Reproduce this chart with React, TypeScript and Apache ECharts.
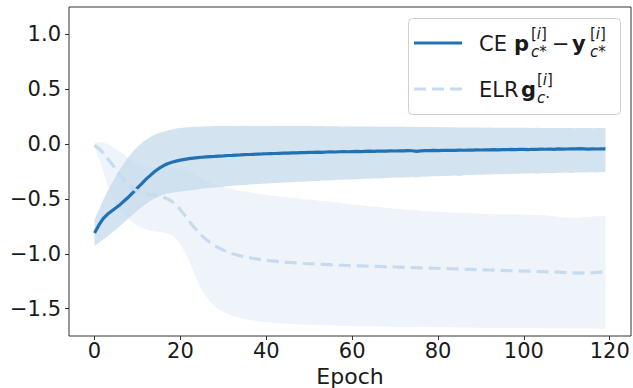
import React, { useEffect, useRef } from "react";
import * as echarts from "echarts";

const EPOCHS: number[] = Array.from({ length: 120 }, (_, i) => i);

const CE_MEAN = [
  -0.81, -0.74, -0.68, -0.64, -0.61, -0.58, -0.55, -0.515, -0.48, -0.44,
  -0.4, -0.36, -0.32, -0.285, -0.25, -0.222, -0.198, -0.18, -0.165, -0.155,
  -0.146, -0.139, -0.133, -0.128, -0.124, -0.12, -0.117, -0.114, -0.112, -0.109,
  -0.107, -0.104, -0.103, -0.1, -0.099, -0.096, -0.095, -0.093, -0.091, -0.09,
  -0.088, -0.087, -0.086, -0.084, -0.083, -0.082, -0.08, -0.081, -0.078, -0.077,
  -0.076, -0.075, -0.074, -0.075, -0.072, -0.071, -0.072, -0.07, -0.069, -0.07,
  -0.068, -0.067, -0.068, -0.066, -0.065, -0.066, -0.064, -0.063, -0.065, -0.062,
  -0.063, -0.061, -0.062, -0.06, -0.061, -0.066, -0.062, -0.059, -0.06, -0.058,
  -0.059, -0.057, -0.058, -0.056, -0.057, -0.055, -0.056, -0.054, -0.055, -0.053,
  -0.054, -0.052, -0.053, -0.051, -0.052, -0.05, -0.051, -0.049, -0.051, -0.048,
  -0.049, -0.05, -0.047, -0.048, -0.046, -0.047, -0.045, -0.048, -0.044, -0.046,
  -0.045, -0.043, -0.044, -0.042, -0.043, -0.046, -0.044, -0.045, -0.043, -0.044,
];

const CE_UPPER = [
  -0.69, -0.6, -0.51, -0.43, -0.36, -0.29, -0.225, -0.165, -0.11, -0.065,
  -0.025, 0.01, 0.04, 0.065, 0.085, 0.1, 0.113, 0.124, 0.133, 0.141,
  0.147, 0.151, 0.154, 0.157, 0.159, 0.161, 0.162, 0.163, 0.164, 0.165,
  0.165, 0.166, 0.166, 0.167, 0.166, 0.167, 0.167, 0.166, 0.167, 0.166,
  0.167, 0.166, 0.165, 0.166, 0.165, 0.166, 0.165, 0.164, 0.165, 0.164,
  0.165, 0.164, 0.163, 0.164, 0.163, 0.162, 0.163, 0.162, 0.161, 0.162,
  0.161, 0.16, 0.161, 0.16, 0.159, 0.16, 0.159, 0.158, 0.159, 0.158,
  0.157, 0.158, 0.157, 0.156, 0.157, 0.156, 0.155, 0.156, 0.155, 0.154,
  0.155, 0.154, 0.153, 0.154, 0.153, 0.152, 0.153, 0.152, 0.151, 0.152,
  0.151, 0.15, 0.151, 0.15, 0.149, 0.15, 0.149, 0.148, 0.149, 0.148,
  0.149, 0.148, 0.147, 0.148, 0.147, 0.146, 0.147, 0.146, 0.147, 0.146,
  0.147, 0.146, 0.145, 0.146, 0.147, 0.146, 0.145, 0.146, 0.147, 0.146,
];

const CE_LOWER = [
  -0.93, -0.9, -0.87, -0.84, -0.81, -0.78, -0.745, -0.71, -0.675, -0.64,
  -0.605, -0.575, -0.545, -0.52, -0.497, -0.478, -0.463, -0.452, -0.444, -0.438,
  -0.433, -0.428, -0.423, -0.418, -0.413, -0.408, -0.403, -0.399, -0.395, -0.391,
  -0.388, -0.385, -0.381, -0.378, -0.375, -0.372, -0.369, -0.367, -0.364, -0.362,
  -0.359, -0.357, -0.355, -0.352, -0.351, -0.348, -0.347, -0.344, -0.343, -0.341,
  -0.339, -0.337, -0.336, -0.333, -0.332, -0.329, -0.328, -0.326, -0.325, -0.323,
  -0.322, -0.32, -0.319, -0.317, -0.316, -0.314, -0.313, -0.311, -0.31, -0.308,
  -0.307, -0.305, -0.304, -0.302, -0.301, -0.304, -0.298, -0.297, -0.295, -0.294,
  -0.293, -0.291, -0.29, -0.288, -0.287, -0.29, -0.285, -0.283, -0.282, -0.28,
  -0.279, -0.278, -0.277, -0.276, -0.275, -0.274, -0.273, -0.272, -0.271, -0.27,
  -0.269, -0.268, -0.267, -0.27, -0.266, -0.264, -0.263, -0.266, -0.262, -0.261,
  -0.26, -0.263, -0.259, -0.258, -0.26, -0.257, -0.256, -0.258, -0.255, -0.254,
];

const ELR_MEAN = [
  -0.01, -0.04, -0.08, -0.13, -0.18, -0.23, -0.285, -0.335, -0.375, -0.405,
  -0.428, -0.443, -0.453, -0.46, -0.466, -0.474, -0.485, -0.5, -0.522, -0.555,
  -0.598, -0.648, -0.7, -0.75, -0.795, -0.835, -0.87, -0.9, -0.925, -0.948,
  -0.967, -0.983, -0.997, -1.009, -1.019, -1.028, -1.036, -1.043, -1.049, -1.055,
  -1.06, -1.064, -1.068, -1.072, -1.075, -1.078, -1.081, -1.084, -1.086, -1.089,
  -1.091, -1.093, -1.095, -1.097, -1.099, -1.1, -1.102, -1.104, -1.105, -1.107,
  -1.108, -1.11, -1.111, -1.112, -1.114, -1.115, -1.116, -1.117, -1.119, -1.12,
  -1.121, -1.122, -1.124, -1.125, -1.126, -1.127, -1.128, -1.13, -1.131, -1.132,
  -1.133, -1.135, -1.136, -1.137, -1.138, -1.14, -1.141, -1.142, -1.143, -1.145,
  -1.146, -1.147, -1.148, -1.15, -1.151, -1.152, -1.153, -1.155, -1.156, -1.157,
  -1.158, -1.159, -1.161, -1.162, -1.163, -1.164, -1.166, -1.167, -1.168, -1.17,
  -1.172, -1.174, -1.175, -1.176, -1.177, -1.176, -1.173, -1.17, -1.167, -1.165,
];

const ELR_UPPER = [
  0.01, 0.018, 0.015, 0.0, -0.02, -0.045, -0.072, -0.1, -0.13, -0.158,
  -0.182, -0.198, -0.208, -0.213, -0.215, -0.215, -0.215, -0.216, -0.218, -0.22,
  -0.225, -0.236, -0.252, -0.272, -0.293, -0.314, -0.333, -0.35, -0.365, -0.378,
  -0.39, -0.4, -0.41, -0.418, -0.426, -0.433, -0.44, -0.446, -0.452, -0.458,
  -0.463, -0.468, -0.473, -0.478, -0.482, -0.487, -0.491, -0.495, -0.498, -0.502,
  -0.506, -0.51, -0.514, -0.518, -0.522, -0.526, -0.53, -0.535, -0.54, -0.545,
  -0.55, -0.554, -0.558, -0.562, -0.566, -0.57, -0.574, -0.578, -0.582, -0.585,
  -0.589, -0.592, -0.595, -0.598, -0.601, -0.604, -0.607, -0.61, -0.612, -0.615,
  -0.617, -0.619, -0.621, -0.623, -0.625, -0.627, -0.628, -0.63, -0.631, -0.633,
  -0.634, -0.635, -0.636, -0.637, -0.638, -0.639, -0.64, -0.641, -0.642, -0.643,
  -0.644, -0.645, -0.646, -0.647, -0.648, -0.65, -0.653, -0.657, -0.662, -0.667,
  -0.67, -0.672, -0.673, -0.672, -0.668, -0.664, -0.66, -0.657, -0.655, -0.654,
];

const ELR_LOWER = [
  -0.03, -0.13, -0.25, -0.37, -0.47, -0.55, -0.61, -0.655, -0.69, -0.72,
  -0.745, -0.765, -0.78, -0.79, -0.796, -0.8, -0.806, -0.815, -0.83, -0.86,
  -0.91, -0.98, -1.06, -1.16, -1.25, -1.33, -1.39, -1.44, -1.48, -1.51,
  -1.53, -1.548, -1.563, -1.576, -1.587, -1.596, -1.603, -1.609, -1.614, -1.619,
  -1.623, -1.627, -1.63, -1.633, -1.636, -1.638, -1.64, -1.642, -1.644, -1.646,
  -1.647, -1.649, -1.65, -1.651, -1.652, -1.654, -1.655, -1.656, -1.657, -1.658,
  -1.659, -1.66, -1.66, -1.661, -1.662, -1.662, -1.663, -1.664, -1.664, -1.665,
  -1.665, -1.666, -1.666, -1.667, -1.667, -1.668, -1.668, -1.669, -1.669, -1.67,
  -1.67, -1.67, -1.671, -1.671, -1.672, -1.672, -1.672, -1.673, -1.673, -1.674,
  -1.674, -1.674, -1.675, -1.675, -1.675, -1.676, -1.676, -1.676, -1.677, -1.677,
  -1.677, -1.678, -1.678, -1.678, -1.679, -1.679, -1.679, -1.68, -1.68, -1.68,
  -1.68, -1.681, -1.681, -1.681, -1.682, -1.682, -1.682, -1.683, -1.683, -1.683,
];

const X_TICKS = [0, 20, 40, 60, 80, 100, 120];
const Y_TICKS = [-1.5, -1.0, -0.5, 0.0, 0.5, 1.0];

const CE_COLOR = "#2171b5";
const ELR_COLOR = "#c6dbef";
const FONT = '"DejaVu Sans", "Noto Sans", sans-serif';
const INK = "#1a1a1a";

function bandSeries(name: string, lower: number[], upper: number[], fill: string) {
  return {
    type: "custom",
    name,
    silent: true,
    clip: true,
    data: EPOCHS.map((e, i) => [e, lower[i], upper[i]]),
    encode: { x: 0, y: [1, 2] },
    renderItem: (params: any, api: any) => {
      if (params.dataIndex !== 0) return null;
      const pts: number[][] = [];
      for (let i = 0; i < EPOCHS.length; i++) pts.push(api.coord([EPOCHS[i], upper[i]]));
      for (let i = EPOCHS.length - 1; i >= 0; i--) pts.push(api.coord([EPOCHS[i], lower[i]]));
      return { type: "polygon", shape: { points: pts }, style: { fill, stroke: "none" } };
    },
  };
}

function lineSeries(name: string, values: number[], color: string, dashed: boolean) {
  return {
    type: "line",
    name,
    data: EPOCHS.map((e, i) => [e, values[i]]),
    showSymbol: false,
    symbol: "none",
    smooth: false,
    lineStyle: { color, width: 3.2, type: dashed ? [12, 6] : "solid", cap: "butt" },
  };
}

const MAIN_SIZE = 21;
const SUB_SIZE = 15;
const mainFont = `${MAIN_SIZE}px ${FONT}`;
const boldFont = `bold ${MAIN_SIZE}px ${FONT}`;
const supRich = {
  n: { font: `${SUB_SIZE}px ${FONT}`, fill: INK },
  i: { font: `italic ${SUB_SIZE}px ${FONT}`, fill: INK },
};

function txt(text: string, x: number, y: number, font: string) {
  return { type: "text", x, y, z: 102, silent: true, style: { text, font, fill: INK, align: "left", verticalAlign: "middle" } };
}
function rich(text: string, x: number, y: number) {
  return { type: "text", x, y, z: 102, silent: true, style: { text, rich: supRich, fill: INK, align: "left", verticalAlign: "middle", font: `${SUB_SIZE}px ${FONT}` } };
}

export default function App() {
  const ref = useRef<HTMLDivElement>(null);
  useEffect(() => {
    if (!ref.current) return;
    const chart = echarts.init(ref.current, undefined, { renderer: "svg" });
    const fmt = (v: number) => (v < 0 ? "\u2212" + Math.abs(v).toFixed(1) : v.toFixed(1));
    const y1 = 44;
    const y2 = 90;
    chart.setOption({
      animation: false,
      backgroundColor: "#ffffff",
      grid: {
        left: 69, right: 2, top: 7, bottom: 52,
        containLabel: false, outerBoundsMode: "none",
        show: true, borderColor: "#333", borderWidth: 1, backgroundColor: "transparent",
      },
      xAxis: {
        type: "value",
        min: -5.95,
        max: 124.95,
        name: "Epoch",
        nameLocation: "middle",
        nameGap: 25,
        nameTextStyle: { fontSize: 22, fontFamily: FONT, color: INK },
        axisLine: { show: false, onZero: false },
        splitLine: { show: false },
        axisTick: { show: true, length: 4, lineStyle: { color: "#333" }, customValues: X_TICKS },
        axisLabel: { fontSize: 21, fontFamily: FONT, color: INK, margin: 4, customValues: X_TICKS, formatter: (v: number) => String(v) },
      },
      yAxis: {
        type: "value",
        min: -1.75,
        max: 1.25,
        axisLine: { show: false, onZero: false },
        splitLine: { show: false },
        axisTick: { show: true, length: 4, lineStyle: { color: "#333" }, customValues: Y_TICKS },
        axisLabel: { fontSize: 21, fontFamily: FONT, color: INK, margin: 8, customValues: Y_TICKS, formatter: fmt },
      },
      series: [
        bandSeries("CE band", CE_LOWER, CE_UPPER, "rgba(33,113,181,0.2)"),
        lineSeries("CE", CE_MEAN, CE_COLOR, false),
        bandSeries("ELR band", ELR_LOWER, ELR_UPPER, "rgba(198,219,239,0.3)"),
        lineSeries("ELR", ELR_MEAN, ELR_COLOR, true),
      ],
      graphic: [
        {
          type: "rect",
          shape: { x: 408.5, y: 18.5, width: 212, height: 96, r: 4 },
          style: { fill: "rgba(255,255,255,0.8)", stroke: "#d0d0d0", lineWidth: 1 },
          silent: true,
          z: 100,
        },
        { type: "line", z: 101, silent: true, shape: { x1: 414, y1: 43, x2: 462, y2: 43 }, style: { stroke: CE_COLOR, lineWidth: 3.2 } },
        { type: "line", z: 101, silent: true, shape: { x1: 414, y1: 89, x2: 462, y2: 89 }, style: { stroke: ELR_COLOR, lineWidth: 3.2, lineDash: [12, 6] } },
        txt("CE", 479, y1, mainFont),
        txt("p", 514, y1, boldFont),
        rich("{n|[}{i|i}{n|]}", 531, 34),
        rich("{i|c}{n|*}", 531, 52),
        txt("\u2212", 552, y1, mainFont),
        txt("y", 572, y1, boldFont),
        rich("{n|[}{i|i}{n|]}", 590, 34),
        rich("{i|c}{n|*}", 590, 52),
        txt("ELR", 479, y2, mainFont),
        txt("g", 521, y2, boldFont),
        rich("{n|[}{i|i}{n|]}", 537, 80),
        rich("{i|c}{n|\u00b7}", 537, 98),
      ],
    });
    return () => chart.dispose();
  }, []);
  return <div ref={ref} style={{ position: "fixed", left: 0, top: 0, width: 633, height: 388 }} />;
}
